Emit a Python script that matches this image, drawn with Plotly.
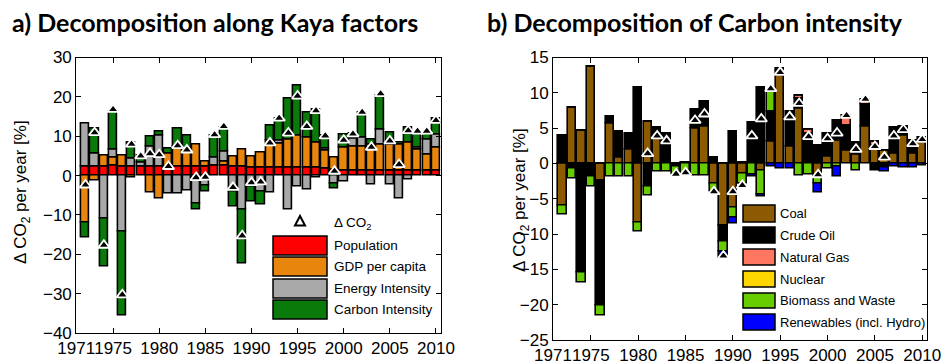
import plotly.graph_objects as go

years = list(range(1972, 2011))

# ---- panel a: Kaya factors (% per year) ----
population = [2.3, 2.3, 2.3, 2.5, 2.3, 2.3, 2.3, 2.3, 2.3, 2.3, 2.3, 2.3, 2.3, 2.3, 2.5, 2.5, 2.3, 2.3, 2.0,
              2.0, 2.0, 2.0, 2.0, 2.0, 2.0, 2.0, 1.8, 1.5, 1.4, 1.4, 1.4, 1.4, 1.4, 1.4, 1.4, 1.4, 1.3, 1.3, 1.3]
gdp_per_capita = [-12.0, -1.2, 2.7, 2.2, 2.7, -0.5, 0.0, -4.4, -5.8, 3.4, 5.1, 4.3, 5.7, 1.3, 0.0, 1.0, 2.6, 4.3, 2.8,
                  3.8, 6.8, 6.2, 7.2, 8.1, 7.7, 6.4, 4.5, 3.0, 5.7, 6.1, 6.1, 6.5, 6.6, 6.6, 6.6, 7.0, 5.3, 4.0, 5.8]
energy_intensity = [10.9, 3.4, -11.0, 2.0, -14.3, 2.0, 1.0, 5.1, 7.9, -4.5, -4.5, -3.7, -7.1, -2.4, 2.2, 2.6, -4.1, -8.5, -2.7,
                    -4.0, -4.3, 0.8, -8.7, -2.7, -3.6, -0.5, 0.5, -1.9, -1.5, 1.9, 2.1, -2.3, 3.8, -2.3, -5.7, -1.0, 0.5, 3.8, 3.4]
carbon_intensity = [-3.7, 6.2, -12.2, 9.7, -21.3, 4.2, 1.7, 2.6, 0.9, 1.1, 4.5, 3.6, -1.5, -1.7, 5.5, 6.1, -3.8, -13.8, -3.9,
                    -3.4, 3.8, 5.4, 10.3, 12.8, 6.4, 8.5, 3.3, -1.5, 3.4, 1.2, 6.5, 1.3, 8.5, 2.9, 0.3, 3.8, 4.0, 1.9, 3.9]
delta_co2 = [-2.4, 10.9, -17.7, 16.8, -30.3, 8.0, 5.0, 5.6, 5.3, 2.3, 7.6, 6.5, -0.5, -0.4, 10.4, 12.5, -3.0, -15.3, -1.8,
             -1.6, 8.3, 14.6, 10.8, 20.2, 12.5, 16.5, 10.1, 1.1, 9.0, 10.6, 16.1, 7.2, 20.8, 8.8, 2.8, 11.4, 11.3, 11.3, 14.0]

# ---- panel b: carbon intensity decomposition (% per year) ----
coal = [-5.9, 7.9, 4.7, 13.7, -2.4, 5.7, 0.9, 2.0, -8.3, 5.9, 4.3, 0.0, 0.0, 0.0, 5.0, 5.2, -2.8, -8.8, -6.2,
        -1.4, 0.0, -0.95, 3.1, 12.5, 2.4, 7.8, 0.0, -1.7, 0.95, 3.3, 1.9, 1.2, 5.3, 2.6, 1.9, 1.4, 4.0, 1.4, 2.9]
crude_oil = [3.9, -0.7, -15.4, -1.9, -17.7, 1.0, 3.6, 2.2, 10.8, -3.3, 0.8, 4.3, -0.4, 0.2, 2.6, 3.5, 0.85, -2.3, 4.5,
             0.2, 5.8, 10.8, 4.2, 0.6, 5.0, 1.4, 4.3, 2.5, 3.3, 2.8, 3.5, 1.8, 3.1, -1.0, -0.6, 3.7, 1.3, 1.9, 0.8]
natural_gas = [0, 0, 0, 0, 0, 0, 0, 0, 0, 0, 0, 0, 0, 0, 0, 0, 0, 0, 0,
               0, 0, 0, 0, 0.4, 0, 0.4, 0.5, 0, 0, 0, 1.4, 0, 0.7, 0.5, 0, 0, 0, 0, 0]
nuclear = [0, 0, 0, 0, 0, 0, 0, 0, 0, 0, 0, 0, 0, 0, 0, 0, 0, 0, 0,
           0, 0, 0, 0, 0, 0, 0, 0, 0, 0, 0, 0, 0, 0, 0, 0, 0, 0, 0, 0]
biomass_waste = [-1.4, -1.4, -1.4, -1.4, -1.4, -1.8, -1.8, -1.8, -1.4, -1.2, -1.2, -1.2, -1.2, -1.4, -1.7, -1.7, -1.2, -1.4, -1.4,
                 -1.4, -1.5, -3.5, 2.9, 0.0, 0.0, -1.7, -1.5, -1.2, -0.7, -0.4, 0.0, -1.0, 0.0, 0.0, 0.0, 0.0, 0.0, 0.0, 0.0]
renewables = [0, 0, 0, 0, 0, 0, 0, 0, 0, 0, 0, 0, 0, 0, 0, 0, 0, -0.9, -0.9,
              -0.1, -0.4, -0.3, -0.5, -0.7, -0.7, 0, 0, -1.2, 0, -1.4, 0, 0, 0, 0, -0.6, -0.4, -0.6, -0.6, -0.3]
delta_ci = [None, None, None, None, None, None, None, None, None, 1.4, 3.9, 3.2, -1.5, -1.3, 6.1, 7.0, -4.0, -13.1, -4.0,
            -3.1, 3.9, 6.3, 10.6, 12.9, 6.6, 8.5, 3.8, -1.6, 3.5, 4.3, 6.8, 2.0, 9.1, 2.4, 0.9, 3.9, 4.8, 2.8, 3.4]

xtick_vals = [1971, 1975, 1980, 1985, 1990, 1995, 2000, 2005, 2010]
xtick_text = [str(v) for v in xtick_vals]
ya_ticks = [-40, -30, -20, -10, 0, 10, 20, 30]
yb_ticks = [-25, -20, -15, -10, -5, 0, 5, 10, 15]

kaya_series = [("Population", population, "#FF0000"),
               ("GDP per capita", gdp_per_capita, "#E8850C"),
               ("Energy Intensity", energy_intensity, "#A8A8A8"),
               ("Carbon Intensity", carbon_intensity, "#0A7A0A")]
ci_series = [("Coal", coal, "#8C5A00"),
             ("Crude Oil", crude_oil, "#000000"),
             ("Natural Gas", natural_gas, "#FF7761"),
             ("Nuclear", nuclear, "#FFD600"),
             ("Biomass and Waste", biomass_waste, "#66CC00"),
             ("Renewables (incl. Hydro)", renewables, "#0000FF")]

W, H = 942, 364
def px(x):
    return x / W
def py(y):
    return 1 - y / H

fig = go.Figure()
for name, vals, col in kaya_series:
    fig.add_trace(go.Bar(x=years, y=vals, name=name, marker_color=col, width=0.88,
                         marker_line_color="black", marker_line_width=1.6,
                         xaxis="x", yaxis="y", showlegend=False))
fig.add_trace(go.Scatter(x=years, y=delta_co2, mode="markers", xaxis="x", yaxis="y", showlegend=False,
                         marker=dict(symbol="triangle-up", size=10, color="black",
                                     line=dict(color="white", width=1.8))))
for name, vals, col in ci_series:
    fig.add_trace(go.Bar(x=years, y=vals, name=name, marker_color=col, width=0.88,
                         marker_line_color="black", marker_line_width=1.6,
                         xaxis="x2", yaxis="y2", showlegend=False))
fig.add_trace(go.Scatter(x=years, y=delta_ci, mode="markers", xaxis="x2", yaxis="y2", showlegend=False,
                         marker=dict(symbol="triangle-up", size=10, color="black",
                                     line=dict(color="white", width=1.8))))

tickfont = dict(family="Liberation Sans, Arial, sans-serif", size=17, color="black")
common = dict(showline=True, linecolor="black", linewidth=1, mirror="allticks", ticks="inside",
              ticklen=5, tickcolor="black", showgrid=False, zeroline=False, tickfont=tickfont,
              automargin=False, tickangle=0)

fig.update_layout(
    width=W, height=H, margin=dict(l=0, r=0, t=0, b=0, autoexpand=False),
    paper_bgcolor="white", plot_bgcolor="white", barmode="relative", bargap=0,
    xaxis=dict(domain=[px(76.2), px(440.6)], range=[1971, 2010.5], tickmode="array",
               tickvals=xtick_vals, ticktext=xtick_text, anchor="y", **common),
    yaxis=dict(domain=[py(333), py(57.5)], range=[-40, 30], tickmode="array", tickvals=ya_ticks,
               anchor="x", **common),
    xaxis2=dict(domain=[px(553), px(927)], range=[1971, 2010.5], tickmode="array",
                tickvals=xtick_vals, ticktext=xtick_text, anchor="y2", **common),
    yaxis2=dict(domain=[py(340), py(57.5)], range=[-25, 15], tickmode="array", tickvals=yb_ticks,
                anchor="x2", **common),
)

ann = []
shapes = []
title_font = dict(family="Lato, Open Sans, sans-serif", size=25, color="black", weight="bold")
ann.append(dict(text="<b>a) Decomposition along Kaya factors</b>", x=px(10), y=py(22), xref="paper", yref="paper",
                xanchor="left", yanchor="middle", showarrow=False, font=title_font))
ann.append(dict(text="<b>b) Decomposition of Carbon intensity</b>", x=px(485), y=py(22), xref="paper", yref="paper",
                xanchor="left", yanchor="middle", showarrow=False, font=title_font))
ytitle_font = dict(family="Liberation Sans, Arial, sans-serif", size=17, color="black")
ann.append(dict(text="Δ CO<sub>2</sub> per year [%]", x=px(22), y=py(192), xref="paper", yref="paper",
                textangle=-90, showarrow=False, font=ytitle_font, xanchor="center", yanchor="middle"))
ann.append(dict(text="Δ CO<sub>2</sub> per year [%]", x=px(521), y=py(200), xref="paper", yref="paper",
                textangle=-90, showarrow=False, font=ytitle_font, xanchor="center", yanchor="middle"))

# legend panel a
leg_font_a = dict(family="Liberation Sans, Arial, sans-serif", size=13.5, color="black")
tx, ty = 300, 221
shapes.append(dict(type="path", xref="paper", yref="paper",
                   path=f"M {px(tx-5)},{py(ty+4.5)} L {px(tx+5)},{py(ty+4.5)} L {px(tx)},{py(ty-5)} Z",
                   line=dict(color="black", width=2), fillcolor="white"))
ann.append(dict(text="Δ CO<sub>2</sub>", x=px(332), y=py(223), xref="paper", yref="paper", xanchor="left",
                yanchor="middle", showarrow=False, font=leg_font_a))
rows_a = [(236, 255), (257, 276), (279, 298), (300, 319)]
for (name, _, col), (y0, y1) in zip(kaya_series, rows_a):
    shapes.append(dict(type="rect", xref="paper", yref="paper", x0=px(273), x1=px(327), y0=py(y1), y1=py(y0),
                       fillcolor=col, line=dict(color="black", width=1.5)))
    ann.append(dict(text=name, x=px(332), y=py((y0 + y1) / 2), xref="paper", yref="paper", xanchor="left",
                    yanchor="middle", showarrow=False, font=leg_font_a))

# legend panel b
leg_font_b = dict(family="Liberation Sans, Arial, sans-serif", size=13, color="black")
rows_b = [(205, 222), (227, 243), (249, 265), (271, 287), (293, 308), (314, 330)]
for (name, _, col), (y0, y1) in zip(ci_series, rows_b):
    shapes.append(dict(type="rect", xref="paper", yref="paper", x0=px(743), x1=px(775), y0=py(y1), y1=py(y0),
                       fillcolor=col, line=dict(color="black", width=1.5)))
    ann.append(dict(text=name, x=px(778), y=py((y0 + y1) / 2), xref="paper", yref="paper", xanchor="left",
                    yanchor="middle", showarrow=False, font=leg_font_b))

fig.update_layout(annotations=ann, shapes=shapes)
fig.write_html("out.html", config={"displayModeBar": False},
               post_script="document.body.style.margin='0';document.body.style.overflow='hidden';")
